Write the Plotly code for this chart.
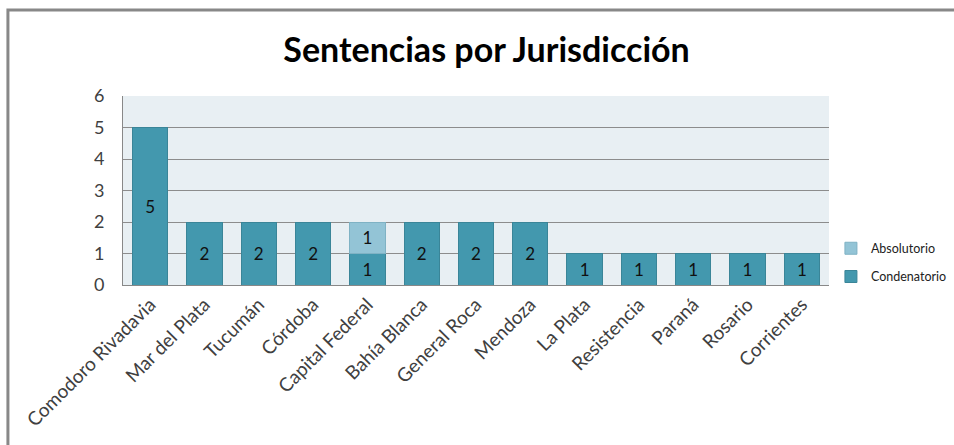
import plotly.graph_objects as go

# ── data ────────────────────────────────────────────────────────────────
jurisdicciones = [
    "Comodoro Rivadavia", "Mar del Plata", "Tucumán", "Córdoba", "Capital Federal",
    "Bahía Blanca", "General Roca", "Mendoza", "La Plata", "Resistencia",
    "Paraná", "Rosario", "Corrientes",
]
condenatorio = [5, 2, 2, 2, 1, 2, 2, 2, 1, 1, 1, 1, 1]
absolutorio = [None, None, None, None, 1, None, None, None, None, None, None, None, None]

COLOR_COND = "#4398AE"
COLOR_ABS = "#93C4D6"
FONT = "Lato, 'Open Sans', sans-serif"

fig = go.Figure()
fig.add_trace(go.Bar(
    x=jurisdicciones, y=condenatorio, name="Condenatorio",
    marker=dict(color=COLOR_COND, line=dict(color="#3A8598", width=1)),
    text=condenatorio, textposition="inside", insidetextanchor="middle",
    textfont=dict(color="#111111", size=17),
    legendgroup="cond", legendrank=2,
))
fig.add_trace(go.Bar(
    x=jurisdicciones, y=absolutorio, name="Absolutorio",
    marker=dict(color=COLOR_ABS, line=dict(color="#7FB2C4", width=1)),
    text=absolutorio, textposition="inside", insidetextanchor="middle",
    textfont=dict(color="#111111", size=17),
    legendgroup="abs", legendrank=1,
))

fig.update_layout(
    barmode="stack",
    bargap=0.35,
    width=954, height=445,
    margin=dict(l=123, r=125, t=96, b=160),
    paper_bgcolor="white",
    plot_bgcolor="#E8EFF3",
    font=dict(family=FONT, color="#404040", size=16),
    title=dict(
        text="<b>Sentencias por Jurisdicción</b>",
        font=dict(size=34, color="#000000"),
        x=0.51, xref="container", xanchor="center",
        y=0.888, yref="container", yanchor="middle",
    ),
    legend=dict(
        xref="container", yref="container",
        x=0.871, xanchor="left", y=0.475, yanchor="top",
        traceorder="grouped", tracegroupgap=9,
        font=dict(size=12.5, color="#222222"),
        bgcolor="rgba(0,0,0,0)",
    ),
    showlegend=True,
    shapes=[dict(
        type="rect", xref="paper", yref="paper",
        x0=-0.163, x1=1.6, y0=-1.2, y1=1.455,
        line=dict(color="#888888", width=3), fillcolor="rgba(0,0,0,0)",
        layer="below",
    )],
)
fig.update_xaxes(
    tickangle=-45, showgrid=False, showline=True, linecolor="#888888",
    tickfont=dict(size=19, color="#404040"), ticks="", automargin=False,
)
fig.update_yaxes(
    range=[0, 6], dtick=1, showgrid=True, gridcolor="#8C8C8C", gridwidth=1,
    showline=True, linecolor="#888888", zeroline=False, ticks="",
    tickfont=dict(size=18, color="#404040"), ticklabelstandoff=14, automargin=False,
)

# page body has a default 8px margin; drop it so the figure sits at 0,0
fig.write_html(
    "out.html",
    config={"displayModeBar": False},
    post_script="document.body.style.margin='0';",
)
